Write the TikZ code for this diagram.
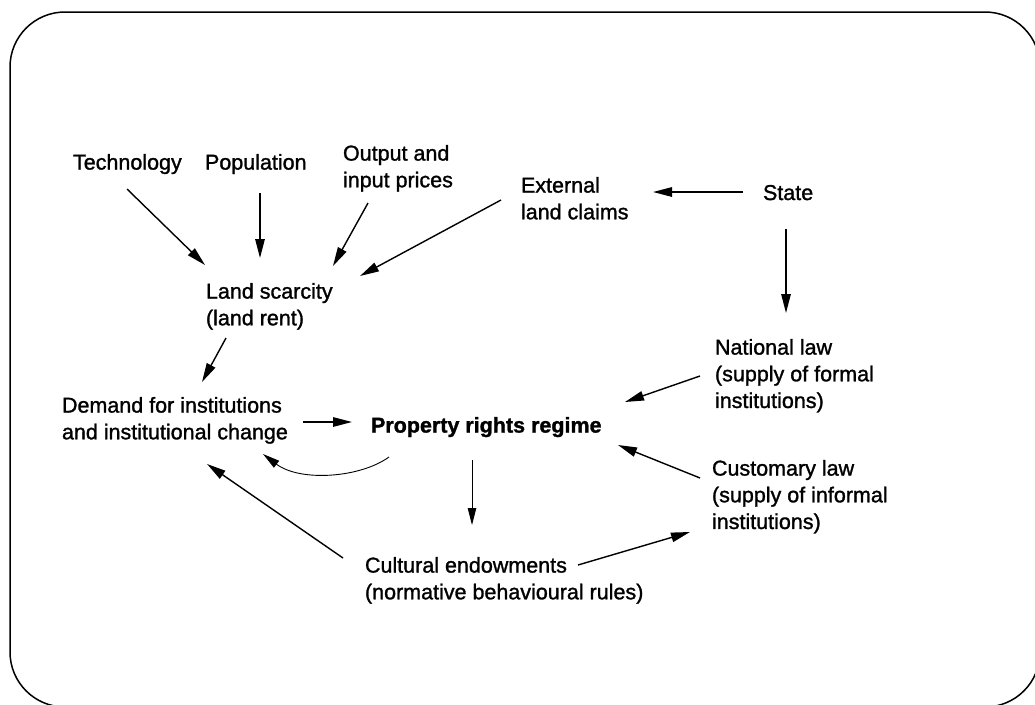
\documentclass[tikz,border=0pt]{standalone}
\usepackage{fontspec}
\setmainfont{Liberation Sans}[FakeBold=1.3]
\usetikzlibrary{arrows.meta,calc}
\tikzset{
  lbl/.style={anchor=north west, inner sep=0pt, outer sep=0pt, align=left,
    font=\fontsize{21.5}{26.7}\selectfont},
  arr/.style={line width=1.4pt, -{Triangle[length=19pt,width=9.5pt]}},
  thinarr/.style={line width=0.9pt, -{Triangle[length=17pt,width=8.5pt]}},
  frame/.style={line width=1.5pt, rounded corners=55pt}
}
\begin{document}
\begin{tikzpicture}[x=1pt,y=-1pt]
\useasboundingbox (0,0) rectangle (1035,704);
\begin{scope}
\clip (0,0) rectangle (1035,704);
\draw[frame] (10,12) rectangle (1040,707);
\end{scope}

\node[lbl] (tech)  at (73,154)  {Technology};
\node[lbl] (pop)   at (205,154) {Population};
\node[lbl] (out)   at (343,145) {Output and\\input prices};
\node[lbl] (ext)   at (521,177) {External\\land claims};
\node[lbl] (state) at (763,185) {State};
\node[lbl] (land)  at (206,283) {Land scarcity\\(land rent)};
\node[lbl] (dem)   at (62,397)  {Demand for institutions\\and institutional change};
\node[lbl, font=\fontsize{21.5}{26.7}\selectfont\bfseries] (prop) at (371,417) {Property rights regime};
\node[lbl] (natl)  at (715,339) {National law\\(supply of formal\\institutions)};
\node[lbl] (cust)  at (712,460) {Customary law\\(supply of informal\\institutions)};
\node[lbl] (cult)  at (365,557) {Cultural endowments\\(normative behavioural rules)};

\draw[arr] ($(tech.north west)+(54,35)$) -- ($(land.north west)+(-1,-18)$);
\draw[arr] ($(pop.north west)+(55,39)$) -- ($(land.north west)+(54,-25)$);
\draw[arr] ($(out.north west)+(25,58)$) -- ($(land.north west)+(127,-17)$);
\draw[arr] ($(ext.north west)+(-20,23)$) -- ($(land.north west)+(154,-7)$);
\draw[arr] ($(state.north west)+(-20,7)$) -- ($(ext.north west)+(132,15)$);
\draw[arr] ($(state.north west)+(23,44)$) -- ($(natl.north west)+(71,-26)$);
\draw[arr] ($(land.north west)+(20,55)$) -- ($(dem.north west)+(140,-15)$);
\draw[arr] ($(dem.north west)+(241,25)$) -- ($(prop.north west)+(-19,5)$);
\draw[thinarr] ($(prop.north west)+(18,40)$) .. controls +(-29,21) and +(37,28) .. ($(dem.north west)+(201,57)$);
\draw[thinarr] ($(prop.north west)+(101,43)$) -- ($(cult.north west)+(107,-32)$);
\draw[arr] ($(natl.north west)+(-15,37)$) -- ($(prop.north west)+(254,-15)$);
\draw[arr] ($(cust.north west)+(-12,18)$) -- ($(prop.north west)+(247,28)$);
\draw[arr] ($(cult.north west)+(-22,1)$) -- ($(dem.north west)+(145,67)$);
\draw[arr] ($(cult.north west)+(213,8)$) -- ($(cust.north west)+(-22,72)$);
\end{tikzpicture}
\end{document}
